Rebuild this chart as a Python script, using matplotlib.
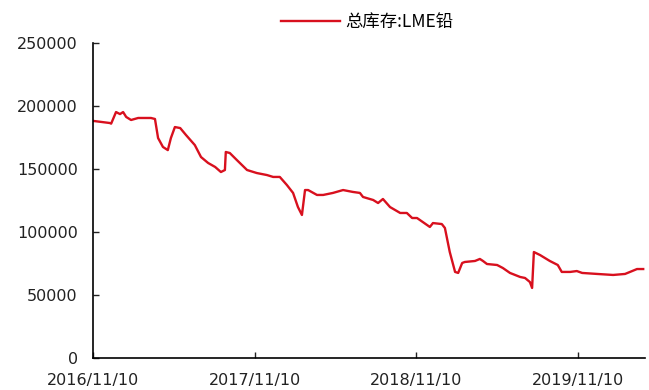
import pandas as pd
import numpy as np
import matplotlib
matplotlib.use('Agg')
import matplotlib.pyplot as plt
import matplotlib.dates as mdates

plt.rcParams['font.family'] = ['DejaVu Sans', 'Noto Sans CJK SC']

# LME lead total stocks (tonnes)
dates = ['2016-11-12', '2016-12-18', '2016-12-21', '2017-01-01', '2017-01-10', '2017-01-17',
         '2017-01-24', '2017-02-04', '2017-02-20', '2017-03-21', '2017-03-30', '2017-04-06',
         '2017-04-17', '2017-04-28', '2017-05-05', '2017-05-14', '2017-05-26', '2017-06-08',
         '2017-06-28', '2017-07-12', '2017-07-28', '2017-08-13', '2017-08-26', '2017-09-04',
         '2017-09-06', '2017-09-15', '2017-10-01', '2017-10-24', '2017-11-15', '2017-12-08',
         '2017-12-22', '2018-01-06', '2018-01-22', '2018-02-05', '2018-02-16', '2018-02-25',
         '2018-03-04', '2018-03-11', '2018-03-31', '2018-04-14', '2018-05-06', '2018-05-29',
         '2018-06-20', '2018-07-06', '2018-07-13', '2018-08-05', '2018-08-16', '2018-08-27',
         '2018-09-12', '2018-10-05', '2018-10-20', '2018-11-01', '2018-11-12', '2018-12-11',
         '2018-12-18', '2019-01-07', '2019-01-14', '2019-01-25', '2019-02-06', '2019-02-13',
         '2019-02-22', '2019-02-28', '2019-03-23', '2019-04-03', '2019-04-10', '2019-04-19',
         '2019-05-12', '2019-05-25', '2019-06-10', '2019-07-03', '2019-07-14', '2019-07-25',
         '2019-07-30', '2019-08-03', '2019-08-17', '2019-09-08', '2019-09-26', '2019-10-05',
         '2019-10-24', '2019-11-08', '2019-11-20', '2019-12-24', '2020-01-29', '2020-02-25',
         '2020-03-12', '2020-03-23', '2020-04-06']
stock = [188100, 186500, 186000, 195200, 193600, 195200,
         191300, 188900, 190500, 190500, 189700, 174600,
         167500, 165000, 174600, 183300, 182500, 177000,
         169000, 159500, 154800, 151600, 147600, 149200,
         163500, 162700, 157100, 149200, 146800, 145200,
         143700, 143700, 137300, 131000, 119800, 113500,
         133300, 133300, 129400, 129400, 131000, 133300,
         131800, 131000, 127800, 125400, 123000, 126200,
         119800, 115100, 115100, 111100, 111100, 104000,
         107100, 106300, 103200, 84100, 68300, 67500,
         75400, 76200, 77000, 78600, 77000, 74600,
         73800, 71400, 67500, 64300, 63500, 60300,
         55600, 84100, 81700, 77000, 73800, 68300,
         68300, 69000, 67500, 66700, 65900, 66700,
         69000, 70600, 70600]
series_name = '总库存:LME铅'
tick_dates = ['2016-11-10', '2017-11-10', '2018-11-10', '2019-11-10']

ts = pd.Series(stock, index=pd.to_datetime(dates))

fig = plt.figure(figsize=(6.49, 3.9), dpi=100)
ax = fig.add_axes([0.1433, 0.0821, 0.8505, 0.8076])

ax.plot(ts.index, ts.values, color='#d8101e', lw=1.7, label=series_name)

ax.set_xlim(pd.Timestamp('2016-11-10'), pd.Timestamp('2020-04-10'))
ax.set_ylim(0, 250000)
ax.set_yticks(np.arange(0, 250001, 50000))
ax.set_xticks(pd.to_datetime(tick_dates))
ax.xaxis.set_major_formatter(mdates.DateFormatter('%Y/%m/%d'))

for side in ['top', 'right']:
    ax.spines[side].set_visible(False)
for side in ['left', 'bottom']:
    ax.spines[side].set_linewidth(1.2)
ax.tick_params(axis='both', direction='in', length=4, width=1, labelsize=11.5, colors='#222222')
ax.tick_params(axis='y', pad=11)
ax.tick_params(axis='x', pad=11)

ax.legend(loc='center', bbox_to_anchor=(0.497, 1.067), frameon=False,
          prop={'family': ['Noto Sans CJK SC', 'DejaVu Sans'], 'size': 12.5},
          handlelength=3.4, handletextpad=0.3)

fig.savefig('out.png', dpi=100)
